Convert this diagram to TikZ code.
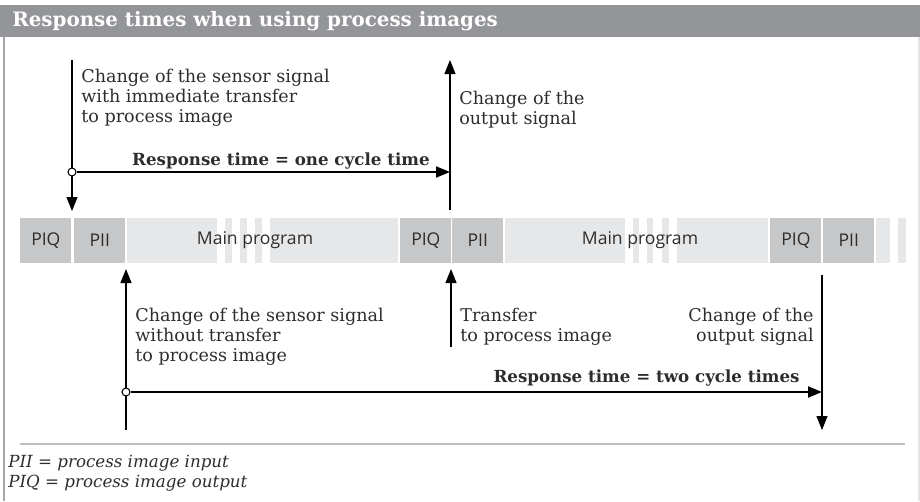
\documentclass[tikz,border=0pt]{standalone}
\usepackage{fontspec}
\setmainfont{DejaVu Serif}
\setsansfont{Open Sans}
\definecolor{hdgray}{RGB}{147,149,152}
\definecolor{segdark}{RGB}{198,199,201}
\definecolor{seglight}{RGB}{230,231,232}
\definecolor{txtgray}{RGB}{45,45,45}
\definecolor{rulegray}{RGB}{190,190,190}
\usetikzlibrary{arrows.meta,positioning}

\begin{document}
\begin{tikzpicture}[x=0.02cm, y=-0.02cm,
    segbox/.style={rectangle, fill=segdark, inner sep=0pt, minimum width=1.02cm,
                   minimum height=0.9cm, font=\sffamily\fontsize{10}{12}\selectfont, text=txtgray},
    barlabel/.style={inner sep=0pt, font=\sffamily\fontsize{10}{12}\selectfont, text=txtgray},
    note/.style={inner sep=0pt, align=left, font=\fontsize{10}{11.4}\selectfont, text=txtgray},
    resp/.style={inner sep=0pt, font=\bfseries\fontsize{9.5}{11}\selectfont, text=txtgray},
    dot/.style={circle, draw, fill=white, line width=0.6pt, inner sep=0pt, minimum size=0.16cm},
    sigline/.style={line width=0.6pt, -{Triangle[length=0.28cm, width=0.22cm]}},
    respline/.style={line width=1.1pt, -{Triangle[length=0.28cm, width=0.22cm]}}
  ]
    \useasboundingbox (0,0) rectangle (920,501);

    % Title
    \fill[hdgray] (0,5) rectangle (920,37);
    \node[anchor=west, inner sep=0pt, text=white, font=\bfseries\fontsize{11.3}{13}\selectfont]
      (title) at (12,21) {Response times when using process images};

    % Frame
    \draw[gray!70, line width=0.6pt] (4,37) -- (4,501);
    \draw[gray!20, line width=0.6pt] (919,37) -- (919,501);

    % Cycle bar
    \foreach \a/\b in {127/217, 225/232, 240/247, 255/262, 270/398, 505/625, 633/639,
                       647/653, 662/669, 677/768, 876/890, 898/906}
      \fill[seglight] (\a,218) rectangle (\b,263);
    \foreach \name/\lbl/\x in {piqa/PIQ/20, piia/PII/74, piqb/PIQ/400,
                               piib/PII/452, piqc/PIQ/770, piic/PII/823}
      \node[segbox, anchor=west] (\name) at (\x,240.5) {\lbl};
    \node[barlabel] (maina) at (255,240.5) {Main program};
    \node[barlabel] (mainb) at (640,240.5) {Main program};

    % Upper case: one cycle
    \coordinate (sensatop) at (72,60);
    \coordinate (sensabot) at (72,211);
    \coordinate (outatop) at (450,60);
    \coordinate (outabot) at (450,210);
    \draw[sigline] (sensatop) -- (sensabot);
    \draw[sigline] (outabot) -- (outatop);
    \node[dot] (dota) at (72,172) {};
    \draw[respline] (dota) -- (dota -| outabot);
    \node[note, anchor=north west] (sensatxt) at (81,69)
      {Change of the sensor signal\\with immediate transfer\\to process image};
    \node[note, anchor=north west] (outatxt) at (459,91)
      {Change of the\\output signal};
    \node[resp, anchor=base east] (respa) at (430,165)
      {Response time = one cycle time};

    % Lower case: two cycles
    \coordinate (sensbbot) at (126,430);
    \coordinate (sensbtop) at (126,269);
    \coordinate (trbot) at (451,347);
    \coordinate (trtop) at (451,269);
    \coordinate (outbtop) at (822,275);
    \coordinate (outbbot) at (822,430);
    \draw[sigline] (sensbbot) -- (sensbtop);
    \draw[sigline] (trbot) -- (trtop);
    \draw[sigline] (outbtop) -- (outbbot);
    \node[dot] (dotb) at (126,392) {};
    \draw[respline] (dotb) -- (dotb -| outbtop);
    \node[note, anchor=north west] (sensbtxt) at (135,308)
      {Change of the sensor signal\\without transfer\\to process image};
    \node[note, anchor=north west] (trtxt) at (460,308)
      {Transfer\\to process image};
    \node[note, anchor=north east, align=right] (outbtxt) at (814,308)
      {Change of the\\output signal};
    \node[resp, anchor=base east] (respb) at (800,382)
      {Response time = two cycle times};

    % Legend
    \draw[rulegray, line width=1pt] (20,444) -- (905,444);
    \node[note, anchor=north west, font=\itshape\fontsize{9.5}{11.4}\selectfont] (legend) at (8,455)
      {PII = process image input\\PIQ = process image output};
  \end{tikzpicture}
\end{document}
